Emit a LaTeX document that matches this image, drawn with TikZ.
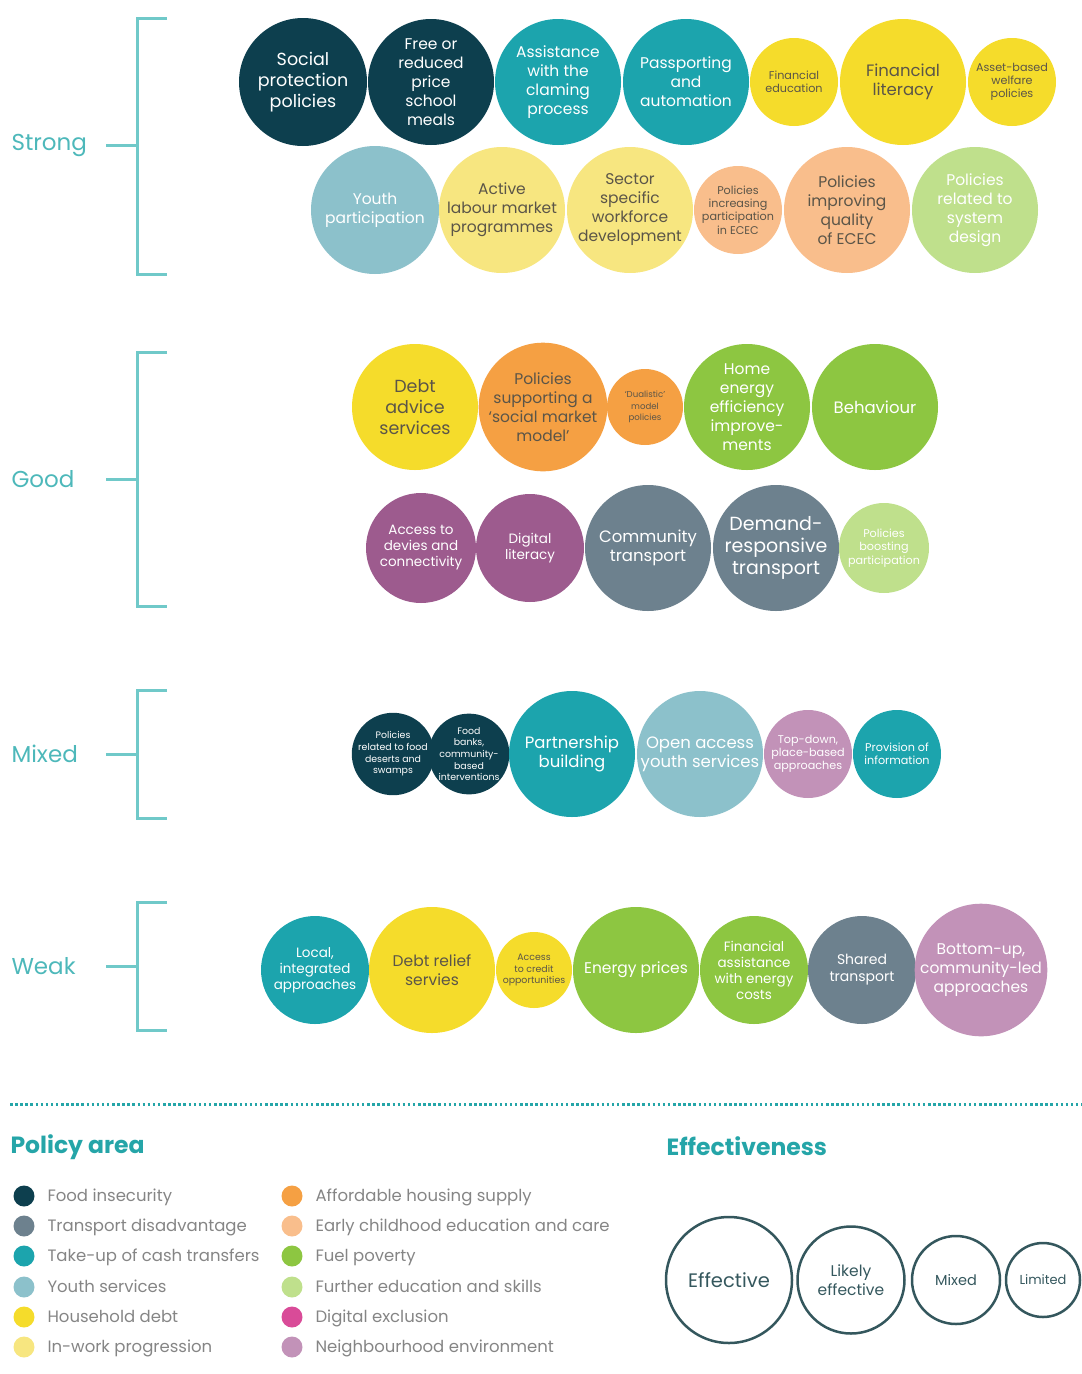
\documentclass[tikz,border=0pt]{standalone}
\usepackage{fontspec}
\setmainfont{Poppins}
\usepackage{xcolor}
\usepackage{tikz}
\usetikzlibrary{shapes}
\definecolor{foodc}{HTML}{0D3F4E}
\definecolor{transc}{HTML}{6D818E}
\definecolor{cashc}{HTML}{1CA4AD}
\definecolor{youthc}{HTML}{8CC1CB}
\definecolor{debtc}{HTML}{F5DC2B}
\definecolor{workc}{HTML}{F7E680}
\definecolor{housec}{HTML}{F5A043}
\definecolor{ececc}{HTML}{F9BE8C}
\definecolor{fuelc}{HTML}{8DC641}
\definecolor{skillc}{HTML}{BFE08C}
\definecolor{digexc}{HTML}{D94B98}
\definecolor{digc}{HTML}{9D5B8E}
\definecolor{neighc}{HTML}{C292B8}
\definecolor{labelc}{HTML}{4DB8BA}
\definecolor{bracketc}{HTML}{70C9C9}
\definecolor{headc}{HTML}{25A5A8}
\definecolor{inkdark}{HTML}{5B5548}
\definecolor{legc}{HTML}{858585}
\definecolor{effc}{HTML}{34575D}
\tikzstyle{bubble}=[circle,inner sep=0pt,align=center,text=white]
\tikzstyle{bigbubble}=[bubble,minimum size=126pt]
\tikzstyle{midbubble}=[bubble,minimum size=108pt]
\tikzstyle{smallbubble}=[bubble,minimum size=88pt]
\tikzstyle{tinybubble}=[bubble,minimum size=76pt]
\tikzstyle{fxl}=[font=\fontsize{19}{22}\selectfont]
\tikzstyle{flg}=[font=\fontsize{17.5}{21}\selectfont]
\tikzstyle{fmd}=[font=\fontsize{15.5}{19}\selectfont]
\tikzstyle{fsm}=[font=\fontsize{13.5}{16}\selectfont]
\tikzstyle{fxs}=[font=\fontsize{11.2}{13.2}\selectfont]
\tikzstyle{ftn}=[font=\fontsize{9.4}{11.6}\selectfont]
\tikzstyle{level}=[anchor=west,text=labelc,font=\fontsize{23}{26}\selectfont]
\tikzstyle{bracket}=[draw=bracketc,line width=3pt]
\tikzstyle{dot}=[circle,inner sep=0pt,minimum width=19pt,minimum height=21pt]
\tikzstyle{legend}=[anchor=west,text=legc,text height=14pt,text depth=3pt,font=\fontsize{16.5}{19}\selectfont]
\tikzstyle{heading}=[anchor=west,text=headc,font=\fontsize{23.5}{26}\selectfont\bfseries]
\tikzstyle{effect}=[circle,draw=effc,line width=2.5pt,inner sep=0pt,align=center,text=effc]

\begin{document}
\begin{tikzpicture}[x=1pt,y=-1pt]
        \useasboundingbox (0,0) rectangle (1082,1374);

        % levels of evidence
        \node at (8,145) [level] (strong) {Strong};
        \node at (8,479) [level] (good) {Good};
        \node at (8,754) [level] (mixed) {Mixed};
        \node at (8,966) [level] (weak) {Weak};

        \draw [bracket] (167,18) -- (137,18) -- (137,274) -- (167,274) (106,145) -- (137,145);
        \draw [bracket] (167,352) -- (137,352) -- (137,606) -- (167,606) (106,479) -- (137,479);
        \draw [bracket] (167,690) -- (137,690) -- (137,818) -- (167,818) (106,754) -- (137,754);
        \draw [bracket] (167,902) -- (137,902) -- (137,1030) -- (167,1030) (106,966) -- (137,966);

        % strong
        \node at (303,82) [bigbubble,flg,fill=foodc,minimum size=128pt] (social) {Social\\protection\\policies};
        \node at (431,82) [bigbubble,fmd,fill=foodc] (meals) {Free or\\reduced\\price\\school\\meals};
        \node at (558,82) [bigbubble,fmd,fill=cashc] (assist) {Assistance\\with the\\claming\\process};
        \node at (686,82) [bigbubble,fmd,fill=cashc] (passport) {Passporting\\and\\automation};
        \node at (794,82) [smallbubble,fxs,fill=debtc,text=inkdark] (fined) {Financial\\education};
        \node at (903,82) [bigbubble,fmd,fill=debtc,text=inkdark,font=\fontsize{16.5}{19}\selectfont] (finlit) {Financial\\literacy};
        \node at (1012,82) [smallbubble,fxs,fill=debtc,text=inkdark] (asset) {Asset-based\\welfare\\policies};

        \node at (375,210) [bigbubble,fmd,fill=youthc,minimum size=128pt] (youth) {Youth\\participation};
        \node at (502,210) [bigbubble,fmd,fill=workc,text=inkdark] (almp) {Active\\labour market\\programmes};
        \node at (630,210) [bigbubble,fmd,fill=workc,text=inkdark] (sector) {Sector\\specific\\workforce\\development};
        \node at (738,210) [smallbubble,fxs,fill=ececc,text=inkdark] (ececpart) {Policies\\increasing\\participation\\in ECEC};
        \node at (847,210) [bigbubble,fmd,fill=ececc,text=inkdark] (ececqual) {Policies\\improving\\quality\\of ECEC};
        \node at (975,210) [bigbubble,fmd,fill=skillc] (sysdesign) {Policies\\related to\\system\\design};

        % good
        \node at (415,407) [bigbubble,flg,fill=debtc,text=inkdark] (debtadv) {Debt\\advice\\services};
        \node at (543,407) [bigbubble,fmd,fill=housec,text=inkdark] (socmarket) {Policies\\supporting a\\`social market\\model'};
        \node at (645,407) [tinybubble,fill=housec,text=inkdark,font=\fontsize{8.6}{11.5}\selectfont] (dualistic) {`Dualistic'\\model\\policies};
        \node at (747,407) [bigbubble,fmd,fill=fuelc] (homeenergy) {Home\\energy\\efficiency\\improve-\\ments};
        \node at (875,407) [bigbubble,fmd,fill=fuelc,font=\fontsize{16.5}{19}\selectfont] (behaviour) {Behaviour};

        \node at (421,548) [midbubble,fsm,fill=digc,minimum size=110pt] (devices) {Access to\\devies and\\connectivity};
        \node at (530,548) [midbubble,fsm,fill=digc] (diglit) {Digital\\literacy};
        \node at (648,548) [bigbubble,fmd,fill=transc,font=\fontsize{16.5}{19}\selectfont] (commtrans) {Community\\transport};
        \node at (776,548) [bigbubble,fxl,fill=transc] (demand) {Demand-\\responsive\\transport};
        \node at (884,548) [smallbubble,fxs,fill=skillc,minimum size=90pt] (boosting) {Policies\\boosting\\participation};

        % mixed
        \node at (393,754) [tinybubble,ftn,fill=foodc] (deserts) {Policies\\related to food\\deserts and\\swamps};
        \node at (469,754) [tinybubble,ftn,fill=foodc] (foodbanks) {Food\\banks,\\community-\\based\\interventions};
        \node at (572,754) [bigbubble,fmd,fill=cashc,font=\fontsize{16.5}{19}\selectfont] (partner) {Partnership\\building};
        \node at (700,754) [bigbubble,fmd,fill=youthc,font=\fontsize{16.5}{19}\selectfont] (openaccess) {Open access\\youth services};
        \node at (808,754) [smallbubble,fxs,fill=neighc] (topdown) {Top-down,\\place-based\\approaches};
        \node at (897,754) [smallbubble,fxs,fill=cashc] (provision) {Provision of\\information};

        % weak
        \node at (315,970) [midbubble,fsm,fill=cashc] (local) {Local,\\integrated\\approaches};
        \node at (432,970) [bigbubble,fmd,fill=debtc,text=inkdark] (debtrelief) {Debt relief\\servies};
        \node at (534,970) [tinybubble,ftn,fill=debtc,text=inkdark] (credit) {Access\\to credit\\opportunities};
        \node at (636,970) [bigbubble,fmd,fill=fuelc] (energy) {Energy prices};
        \node at (754,970) [midbubble,fsm,fill=fuelc] (finassist) {Financial\\assistance\\with energy\\costs};
        \node at (862,970) [midbubble,fsm,fill=transc,font=\fontsize{14}{17}\selectfont] (shared) {Shared\\transport};
        \node at (981,970) [bigbubble,fmd,fill=neighc] (bottomup) {Bottom-up,\\community-led\\approaches};

        % key
        \draw [draw=headc,line width=3pt,dash pattern=on 2.5pt off 2.6pt] (10,1104) -- (1082,1104);

        \node at (7,1147) [heading] (policyarea) {Policy area};
        \node at (663,1146) [heading] (effectiveness) {Effectiveness};

        \node at (24,1196) [dot,fill=foodc] (kfood) {};
        \node at (24,1226) [dot,fill=transc] (ktrans) {};
        \node at (24,1256) [dot,fill=cashc] (kcash) {};
        \node at (24,1287) [dot,fill=youthc] (kyouth) {};
        \node at (24,1317) [dot,fill=debtc] (kdebt) {};
        \node at (24,1347) [dot,fill=workc] (kwork) {};
        \node at (292,1196) [dot,fill=housec] (khouse) {};
        \node at (292,1226) [dot,fill=ececc] (kecec) {};
        \node at (292,1256) [dot,fill=fuelc] (kfuel) {};
        \node at (292,1287) [dot,fill=skillc] (kskill) {};
        \node at (292,1317) [dot,fill=digexc] (kdigex) {};
        \node at (292,1347) [dot,fill=neighc] (kneigh) {};

        \node at (44,1196) [legend] {Food insecurity};
        \node at (44,1226) [legend] {Transport disadvantage};
        \node at (44,1256) [legend] {Take-up of cash transfers};
        \node at (44,1287) [legend] {Youth services};
        \node at (44,1317) [legend] {Household debt};
        \node at (44,1347) [legend] {In-work progression};
        \node at (312,1196) [legend] {Affordable housing supply};
        \node at (312,1226) [legend] {Early childhood education and care};
        \node at (312,1256) [legend] {Fuel poverty};
        \node at (312,1287) [legend] {Further education and skills};
        \node at (312,1317) [legend] {Digital exclusion};
        \node at (312,1347) [legend] {Neighbourhood environment};

        \node at (729,1280) [effect,minimum size=126pt,font=\fontsize{19.5}{22}\selectfont] (effective) {Effective};
        \node at (851,1280) [effect,minimum size=107pt,font=\fontsize{15.5}{18.5}\selectfont] (likely) {Likely\\effective};
        \node at (956,1280) [effect,minimum size=88pt,font=\fontsize{14.5}{17}\selectfont] (mixedeff) {Mixed};
        \node at (1043,1280) [effect,minimum size=74pt,font=\fontsize{13}{16}\selectfont] (limited) {Limited};
      \end{tikzpicture}
\end{document}
